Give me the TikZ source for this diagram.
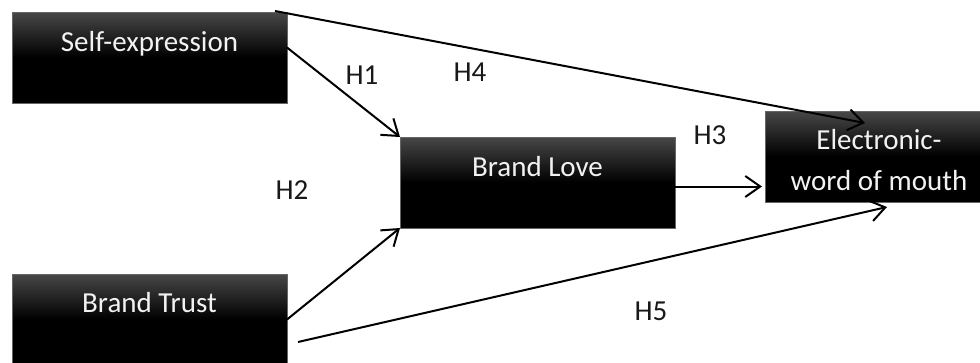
\documentclass[tikz,border=0pt]{standalone}
\usepackage{fontspec}
\setmainfont{Carlito}
\usetikzlibrary{arrows.meta}

% dark box fill: grey at the top fading to black by mid-height
\pgfdeclareverticalshading{boxshade}{100bp}{%
  color(0bp)=(black); color(50bp)=(black);
  color(75bp)=(black!72!white); color(100bp)=(black!72!white)}

\begin{document}
\begin{tikzpicture}[x=1pt, y=-1pt,
  varbox/.style={rectangle, shading=boxshade, draw=black!60, line width=0.7pt,
    minimum width=275pt, minimum height=91pt, inner sep=0pt, outer sep=0pt},
  boxtext/.style={text=white!95!black, anchor=base, inner sep=0pt,
    font=\fontsize{29}{34}\selectfont},
  hlabel/.style={text=black!90, inner sep=0pt, font=\fontsize{29}{34}\selectfont},
  path/.style={draw=black, line width=2pt,
    -{Straight Barb[length=15pt, width=21pt, line width=2pt]}}
]
\useasboundingbox (0,0) rectangle (980,362);

% constructs
\node[varbox] (se) at (149.5,57.5) {};
\node[varbox] (bl) at (537.5,182.5) {};
\node[varbox] (bt) at (149.5,319.5) {};
\node[varbox, minimum width=228pt] (ew) at (879,156.5) {};

\node[boxtext] (se-t) at ([yshift=-39.5pt]se.north) {Self-expression};
\node[boxtext] (bl-t) at ([yshift=-39pt]bl.north) {Brand Love};
\node[boxtext] (bt-t) at ([yshift=-38pt]bt.north) {Brand Trust};
\node[boxtext] (ew-t1) at ([yshift=-38pt]ew.north) {Electronic-};
\node[boxtext] (ew-t2) at ([yshift=-79pt]ew.north) {word of mouth};

% free ends of the hypothesis paths
\coordinate (h1s) at ([yshift=10pt]se.east);
\coordinate (h3s) at ([yshift=-4pt]bl.east);
\coordinate (h3e) at ([shift={(-3pt,-30pt)}]ew.west);
\coordinate (h4s) at ([shift={(-12pt,1pt)}]se.north east);
\coordinate (h4e) at ([shift={(100pt,-12pt)}]ew.north west);
\coordinate (h5s) at ([shift={(11pt,-22.5pt)}]bt.east);
\coordinate (h5e) at ([shift={(122pt,-5pt)}]ew.south west);

% hypotheses
\draw[path] (h1s) -- (bl.north west);
\draw[path] (bt.east) -- (bl.south west);
\draw[path] (h3s) -- (h3e);
\draw[path] (h4s) -- (h4e);
\draw[path] (h5s) -- (h5e);

\node[hlabel] (l1) at (362,75) {H1};
\node[hlabel] (l2) at (292,190) {H2};
\node[hlabel] (l3) at (710,135) {H3};
\node[hlabel] (l4) at (470,72) {H4};
\node[hlabel] (l5) at (651,311) {H5};
\end{tikzpicture}
\end{document}
